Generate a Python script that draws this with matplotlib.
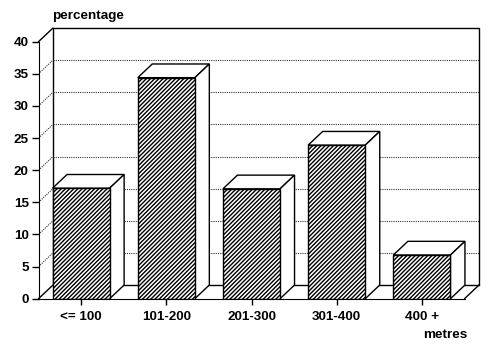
import matplotlib
matplotlib.use("Agg")
import matplotlib.pyplot as plt
from matplotlib.patches import Polygon

plt.rcParams["font.family"] = ["Liberation Sans", "DejaVu Sans"]
plt.rcParams["font.weight"] = "bold"
plt.rcParams["font.size"] = 9.7
plt.rcParams["hatch.linewidth"] = 1.0

# --- Data ---
categories = ["<= 100", "101-200", "201-300", "301-400", "400 +"]
values = [17.2, 34.4, 17.1, 23.9, 6.8]
y_ticks = [0, 5, 10, 15, 20, 25, 30, 35, 40]

# --- Depth of the fake 3D box, in data units ---
dx = 0.17
dy = 2.13
bar_w = 0.67
x_left = -0.5
x_right = 4.5

fig = plt.figure(figsize=(5, 3.52), dpi=100)
ax = fig.add_axes([38.5 / 500, 53.3 / 352, 440.5 / 500, 270.7 / 352])
ax.set_xlim(x_left, x_right + dx)
ax.set_ylim(0, 40 + dy)
ax.patch.set_visible(False)

# --- Walls and floor ---
wall = dict(color="black", lw=1.0, solid_capstyle="round", zorder=1, clip_on=False)
dots = dict(color="#333333", lw=0.8, ls=(0, (1, 1)), zorder=1)
ax.plot([x_left + dx, x_left + dx], [dy, 40 + dy], **wall)
ax.plot([x_left + dx, x_right + dx, x_right + dx], [40 + dy, 40 + dy, dy], **wall)
ax.plot([x_left + dx, x_right + dx], [dy, dy], **wall)
ax.plot([x_left, x_left + dx], [40, 40 + dy], **wall)
ax.plot([x_left, x_left + dx], [0, dy], **wall)
ax.plot([x_right, x_right + dx], [0, dy], **wall)
for v in y_ticks[1:-1]:
    ax.plot([x_left, x_left + dx], [v, v + dy], **dots)
    ax.plot([x_left + dx, x_right + dx], [v + dy, v + dy], **dots)

# --- Bars ---
for i, v in enumerate(values):
    l = i - bar_w / 2
    r = i + bar_w / 2
    ax.add_patch(Polygon([(l, v), (l + dx, v + dy), (r + dx, v + dy), (r, v)],
                         fc="white", ec="black", lw=1.0, zorder=2 + i))
    ax.add_patch(Polygon([(r, 0), (r + dx, dy), (r + dx, v + dy), (r, v)],
                         fc="white", ec="black", lw=1.0, zorder=2 + i))
    ax.bar(i, v, width=bar_w, fc="white", ec="black", hatch="////////", lw=1.0, zorder=2 + i)

# --- Axes ---
for side in ["top", "right"]:
    ax.spines[side].set_visible(False)
ax.spines["left"].set_bounds(0, 40)
ax.spines["bottom"].set_bounds(x_left, x_right)
ax.set_yticks(y_ticks)
ax.set_xticks(range(len(categories)))
ax.set_xticklabels(categories)
ax.tick_params(axis="y", length=5, width=1.0, pad=2)
ax.tick_params(axis="x", length=4, width=1.0, pad=5)

fig.text(52.5 / 500, 1 - 16.5 / 352, "percentage", ha="left", va="center")
fig.text(445 / 500, 1 - 335 / 352, "metres", ha="center", va="center")

fig.savefig("out.png", dpi=100)
